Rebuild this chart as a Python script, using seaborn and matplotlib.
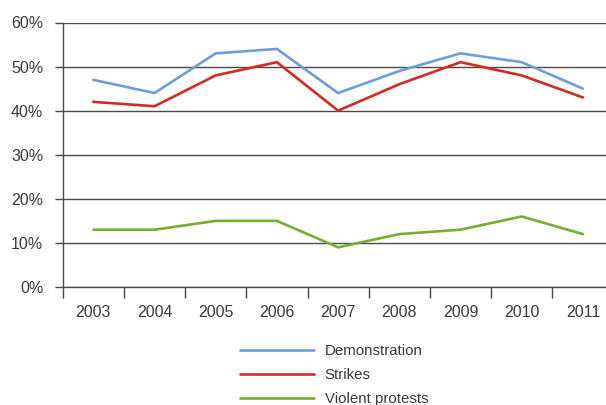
import matplotlib
matplotlib.use("Agg")
import matplotlib.pyplot as plt
import seaborn as sns
import pandas as pd
from matplotlib.ticker import FixedLocator, FuncFormatter

years = ["2003", "2004", "2005", "2006", "2007", "2008", "2009", "2010", "2011"]
demonstration = [47, 44, 53, 54, 44, 49, 53, 51, 45]
strikes = [42, 41, 48, 51, 40, 46, 51, 48, 43]
violent = [13, 13, 15, 15, 9, 12, 13, 16, 12]
series_names = ["Demonstration", "Strikes", "Violent protests"]
colors = ["#6d9edb", "#d42a1f", "#77ad30"]

df = pd.DataFrame({
    "year": years * 3,
    "value": demonstration + strikes + violent,
    "series": [series_names[0]] * 9 + [series_names[1]] * 9 + [series_names[2]] * 9,
})

sns.set_style("white")
plt.rcParams["font.family"] = ["Liberation Sans", "DejaVu Sans"]

W, H = 606, 405
fig = plt.figure(figsize=(W / 100, H / 100), dpi=100)
left = 62.7 / W
right = (62.7 + 9 * 61.2) / W
top = 1 - 22.5 / H
bottom = 1 - 287 / H
ax = fig.add_axes([left, bottom, right - left, top - bottom])

sns.lineplot(data=df, x="year", y="value", hue="series", palette=colors,
             linewidth=1.9, ax=ax, legend=True, sort=False)

ax.set_xlim(-0.5, 8.5)
ax.set_ylim(0, 60)
ax.set_xlabel("")
ax.set_ylabel("")

fs = 11.5
gridc = "#4a4a4a"
ax.set_yticks([0, 10, 20, 30, 40, 50, 60])
ax.yaxis.set_major_formatter(FuncFormatter(lambda v, p: f"{int(v)}%"))
ax.yaxis.grid(True, color=gridc, linewidth=1.0)
ax.set_axisbelow(True)
ax.tick_params(axis="y", which="major", length=6, width=1.0, color=gridc,
               labelsize=fs, labelcolor="#3a3a3a", pad=8, left=True)

ax.set_xticks(range(9))
ax.set_xticklabels(years)
ax.xaxis.set_minor_locator(FixedLocator([i - 0.5 for i in range(10)]))
ax.tick_params(axis="x", which="major", length=0, labelsize=fs,
               labelcolor="#3a3a3a", pad=13)
ax.tick_params(axis="x", which="minor", length=8, width=1.0, color=gridc,
               bottom=True)

for s in ["top", "right"]:
    ax.spines[s].set_visible(False)
ax.spines["left"].set_color(gridc)
ax.spines["bottom"].set_color(gridc)
ax.spines["left"].set_linewidth(1.0)
ax.spines["bottom"].set_linewidth(1.0)

lfs = 10.8
handles, labels = ax.get_legend_handles_labels()
ax.get_legend().remove()
leg = fig.legend(handles, labels, loc="upper left",
                 bbox_to_anchor=(240 / W, 1 - 344 / H),
                 frameon=False, borderpad=0, borderaxespad=0,
                 handlelength=4.9, handletextpad=0.75, labelspacing=0.66,
                 fontsize=lfs)
for t in leg.get_texts():
    t.set_color("#3a3a3a")
for l in leg.get_lines():
    l.set_linewidth(1.9)

fig.savefig("out.png", dpi=100)
